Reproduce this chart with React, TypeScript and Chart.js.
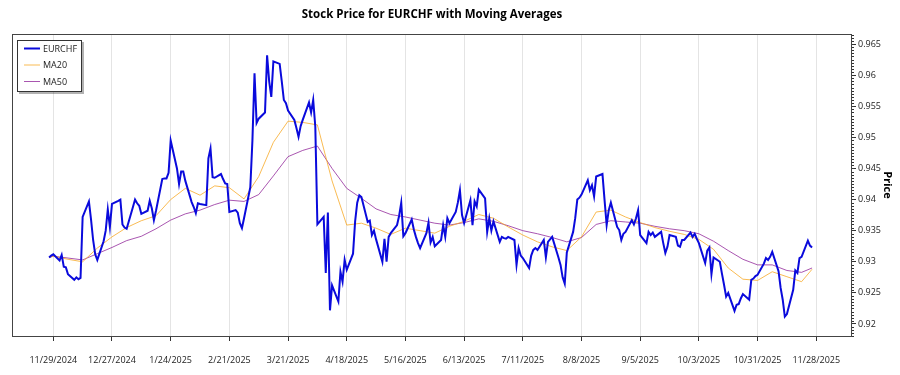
import React, { useEffect, useRef } from 'react';
import { Chart, registerables } from 'chart.js';

Chart.register(...registerables);

// ---- data -------------------------------------------------------------
const TITLE = 'Stock Price for EURCHF with Moving Averages';
const Y_TITLE = 'Price';
const SERIES_NAMES = ['EURCHF', 'MA20', 'MA50'];

// trading days (Mon–Fri) from START to END
const START = '2024-11-27';
const END = '2025-11-26';

// x tick labels
const X_TICK_LABELS = [
  '11/29/2024', '12/27/2024', '1/24/2025', '2/21/2025', '3/21/2025', '4/18/2025', '5/16/2025',
  '6/13/2025', '7/11/2025', '8/8/2025', '9/5/2025', '10/3/2025', '10/31/2025', '11/28/2025',
];
const Y_TICKS = [0.92, 0.925, 0.93, 0.935, 0.94, 0.945, 0.95, 0.955, 0.96, 0.965];

// daily closes, one row per week (first row starts Wed 11/27/2024)
const EURCHF = [
  0.9307, 0.9310, 0.9312,
  0.9302, 0.9311, 0.9292, 0.9291, 0.9280,
  0.9271, 0.9275, 0.9272, 0.9274, 0.9372,
  0.9397, 0.9368, 0.9335, 0.9312, 0.9303,
  0.9333, 0.9350, 0.9384, 0.9356, 0.9393,
  0.9398, 0.9400, 0.9360, 0.9355, 0.9353,
  0.9388, 0.9400, 0.9394, 0.9390, 0.9377,
  0.9382, 0.9398, 0.9386, 0.9367, 0.9382,
  0.9433, 0.9434, 0.9434, 0.9443, 0.9495,
  0.9450, 0.9425, 0.9445, 0.9445, 0.9430,
  0.9396, 0.9388, 0.9378, 0.9394, 0.9393,
  0.9391, 0.9466, 0.9482, 0.9436, 0.9435,
  0.9441, 0.9433, 0.9426, 0.9425, 0.9380,
  0.9383, 0.9379, 0.9362, 0.9354, 0.9370,
  0.9420, 0.9495, 0.9603, 0.9523, 0.9530,
  0.9540, 0.9632, 0.9590, 0.9565, 0.9622,
  0.9618, 0.9590, 0.9560, 0.9555, 0.9543,
  0.9528, 0.9515, 0.9501, 0.9518, 0.9528,
  0.9556, 0.9540, 0.9560, 0.9517, 0.9360,
  0.9372, 0.9282, 0.9379, 0.9222, 0.9262,
  0.9236, 0.9284, 0.9268, 0.9303, 0.9287,
  0.9313, 0.9365, 0.9395, 0.9407, 0.9404,
  0.9364, 0.9366, 0.9343, 0.9350, 0.9336,
  0.9300, 0.9337, 0.9300, 0.9340, 0.9346,
  0.9359, 0.9374, 0.9395, 0.9341, 0.9346,
  0.9368, 0.9352, 0.9340, 0.9330, 0.9322,
  0.9346, 0.9363, 0.9331, 0.9340, 0.9325,
  0.9335, 0.9359, 0.9340, 0.9370, 0.9362,
  0.9380, 0.9395, 0.9415, 0.9375, 0.9362,
  0.9399, 0.9359, 0.9397, 0.9389, 0.9416,
  0.9402, 0.9348, 0.9370, 0.9350, 0.9365,
  0.9332, 0.9340, 0.9338, 0.9337, 0.9340,
  0.9335, 0.9295, 0.9322, 0.9310, 0.9306,
  0.9290, 0.9310, 0.9319, 0.9322, 0.9319,
  0.9335, 0.9307, 0.9332, 0.9336, 0.9340,
  0.9307, 0.9295, 0.9275, 0.9265, 0.9315,
  0.9348, 0.9370, 0.9400, 0.9403, 0.9408,
  0.9431, 0.9415, 0.9423, 0.9405, 0.9437,
  0.9441, 0.9399, 0.9359, 0.9383, 0.9395,
  0.9356, 0.9351, 0.9335, 0.9345, 0.9348,
  0.9367, 0.9360, 0.9370, 0.9383, 0.9343,
  0.9330, 0.9348, 0.9343, 0.9347, 0.9340,
  0.9348, 0.9330, 0.9314, 0.9324, 0.9343,
  0.9340, 0.9326, 0.9324, 0.9335, 0.9335,
  0.9347, 0.9340, 0.9345, 0.9337, 0.9330,
  0.9298, 0.9318, 0.9323, 0.9280, 0.9307,
  0.9300, 0.9281, 0.9263, 0.9244, 0.9250,
  0.9221, 0.9231, 0.9232, 0.9241, 0.9248,
  0.9239, 0.9271, 0.9273, 0.9277, 0.9279,
  0.9297, 0.9306, 0.9303, 0.9308, 0.9316,
  0.9285, 0.9258, 0.9239, 0.9212, 0.9216,
  0.9255, 0.9286, 0.9282, 0.9306, 0.9308,
  0.9334, 0.9326, 0.9323,
];

// moving averages read at START, every Friday, and END
const MA20 = [
  0.9307,
  0.9309, 0.9304, 0.9300, 0.9322, 0.9340, 0.9355, 0.9366, 0.9374, 0.9400, 0.9418,
  0.9407, 0.9422, 0.9419, 0.9401, 0.9437, 0.9492, 0.9526, 0.9524, 0.9520, 0.9430,
  0.9359, 0.9362, 0.9354, 0.9344, 0.9354, 0.9350, 0.9346, 0.9357, 0.9365, 0.9376,
  0.9370, 0.9356, 0.9343, 0.9332, 0.9324, 0.9318, 0.9340, 0.9380, 0.9383, 0.9372,
  0.9363, 0.9355, 0.9349, 0.9344, 0.9336, 0.9320, 0.9290, 0.9272, 0.9270, 0.9284,
  0.9276, 0.9268,
  0.9288,
];
const MA50 = [
  0.9307,
  0.9309, 0.9306, 0.9303, 0.9313, 0.9323, 0.9334, 0.9341, 0.9353, 0.9367, 0.9377,
  0.9383, 0.9392, 0.9399, 0.9397, 0.9408, 0.9438, 0.9469, 0.9479, 0.9486, 0.9450,
  0.9418, 0.9402, 0.9385, 0.9376, 0.9372, 0.9367, 0.9362, 0.9359, 0.9363, 0.9369,
  0.9365, 0.9358, 0.9350, 0.9345, 0.9339, 0.9332, 0.9339, 0.9360, 0.9366, 0.9364,
  0.9362, 0.9357, 0.9353, 0.9350, 0.9345, 0.9333, 0.9318, 0.9304, 0.9295, 0.9295,
  0.9286, 0.9283,
  0.9290,
];

const COLORS = ['#0a0adc', 'rgba(248,170,40,0.8)', 'rgba(140,30,150,0.75)'];
const WIDTHS = [2, 1, 1];

// ---- helpers -----------------------------------------------------------
const DAY = 86400000;
const parseDay = (s: string) => {
  const [y, m, d] = s.split('-').map(Number);
  return Date.UTC(y, m - 1, d);
};
const ORIGIN = parseDay('2024-11-29');
const dayIndex = (t: number) => Math.round((t - ORIGIN) / DAY);
const labelDay = (s: string) => {
  const [m, d, y] = s.split('/').map(Number);
  return dayIndex(Date.UTC(y, m - 1, d));
};

function tradingDays(): number[] {
  const out: number[] = [];
  for (let t = parseDay(START); t <= parseDay(END); t += DAY) {
    const wd = new Date(t).getUTCDay();
    if (wd !== 0 && wd !== 6) out.push(t);
  }
  return out;
}
function maSampleDays(): number[] {
  const out: number[] = [parseDay(START)];
  for (let t = parseDay(START) + DAY; t < parseDay(END); t += DAY) {
    if (new Date(t).getUTCDay() === 5) out.push(t);
  }
  out.push(parseDay(END));
  return out;
}

const FONT = "'Open Sans', 'Noto Sans', sans-serif";

const framePlugin = {
  id: 'frame',
  afterDraw(chart: any) {
    const { ctx, chartArea: a, scales } = chart;
    ctx.save();
    // plot border
    ctx.strokeStyle = '#444';
    ctx.lineWidth = 1;
    ctx.strokeRect(Math.round(a.left) + 0.5, Math.round(a.top) + 0.5, Math.round(a.right - a.left) - 1, Math.round(a.bottom - a.top));
    // minor y ticks
    const y = scales.y;
    ctx.strokeStyle = '#333';
    ctx.beginPath();
    for (let i = 0; i <= 100; i++) {
      const v = 0.918 + i * 0.0005;
      if (v > y.max) break;
      const py = Math.round(y.getPixelForValue(v)) + 0.5;
      const major = Math.abs(v * 200 - Math.round(v * 200)) < 1e-6;
      if (major) continue;
      ctx.moveTo(a.right, py);
      ctx.lineTo(a.right + 2, py);
    }
    ctx.stroke();
    // legend
    const lx = 17, ly = 40, lw = 65, lh = 52;
    ctx.fillStyle = 'rgba(0,0,0,0.3)';
    ctx.fillRect(lx + 2, ly + 2, lw, lh);
    ctx.fillStyle = '#fff';
    ctx.fillRect(lx, ly, lw, lh);
    ctx.strokeStyle = '#333';
    ctx.strokeRect(lx + 0.5, ly + 0.5, lw - 1, lh - 1);
    ctx.font = `9px ${FONT}`;
    ctx.textBaseline = 'middle';
    ctx.textAlign = 'left';
    chart.data.datasets.forEach((ds: any, i: number) => {
      const ry = ly + 8.5 + i * 16.5;
      ctx.strokeStyle = ds.borderColor;
      ctx.lineWidth = ds.borderWidth;
      ctx.beginPath();
      ctx.moveTo(lx + 7, ry);
      ctx.lineTo(lx + 23, ry);
      ctx.stroke();
      ctx.fillStyle = '#222';
      ctx.fillText(ds.label, lx + 26, ry + 0.5);
    });
    ctx.restore();
  },
};

export default function App() {
  const ref = useRef<HTMLCanvasElement | null>(null);
  useEffect(() => {
    if (!ref.current) return;
    const days = tradingDays();
    const priceData = EURCHF.slice(0, days.length).map((v, i) => ({ x: dayIndex(days[i]), y: v }));
    const maDays = maSampleDays();
    const ma20Data = MA20.slice(0, maDays.length).map((v, i) => ({ x: dayIndex(maDays[i]), y: v }));
    const ma50Data = MA50.slice(0, maDays.length).map((v, i) => ({ x: dayIndex(maDays[i]), y: v }));
    const xTickValues = X_TICK_LABELS.map(labelDay);
    const labelFor: Record<number, string> = {};
    X_TICK_LABELS.forEach((s, i) => (labelFor[xTickValues[i]] = s));

    const series = [priceData, ma20Data, ma50Data];
    const chart = new Chart(ref.current, {
      type: 'line',
      data: {
        datasets: series.map((d, i) => ({
          label: SERIES_NAMES[i],
          data: d,
          borderColor: COLORS[i],
          backgroundColor: COLORS[i],
          borderWidth: WIDTHS[i],
          pointRadius: 0,
          tension: 0,
          fill: false,
        })),
      },
      options: {
        animation: false,
        responsive: false,
        devicePixelRatio: 1,
        layout: { padding: { left: 12, right: 0, top: 0, bottom: 0 } },
        plugins: {
          legend: { display: false },
          tooltip: { enabled: false },
          title: {
            display: true,
            text: TITLE,
            fullSize: false,
            color: '#000',
            font: { family: FONT, size: 11.5, weight: 'bold' },
            padding: { top: 8, bottom: 12.2 },
          },
        },
        scales: {
          x: {
            type: 'linear',
            min: -19.7,
            max: 381.05,
            afterBuildTicks: (s: any) => {
              s.ticks = xTickValues.map((v) => ({ value: v }));
            },
            afterFit: (s: any) => {
              s.height = 39;
            },
            ticks: {
              autoSkip: false,
              maxRotation: 0,
              minRotation: 0,
              padding: 14,
              color: '#222',
              font: { family: FONT, size: 9 },
              callback: (v: any) => labelFor[v] ?? '',
            },
            grid: {
              color: '#e4e4e4',
              tickColor: '#333',
              tickLength: 5,
              drawOnChartArea: true,
            },
            border: { display: false },
          },
          y: {
            type: 'linear',
            position: 'right',
            min: 0.91807,
            max: 0.96661,
            afterBuildTicks: (s: any) => {
              s.ticks = Y_TICKS.map((v) => ({ value: v }));
            },
            afterFit: (s: any) => {
              s.width = 48;
            },
            ticks: {
              padding: 2,
              color: '#222',
              font: { family: FONT, size: 9 },
              callback: (v: any) => String(+Number(v).toFixed(3)),
            },
            grid: {
              drawOnChartArea: false,
              tickColor: '#333',
              tickLength: 4,
            },
            border: { display: false },
            title: {
              display: true,
              text: Y_TITLE,
              color: '#000',
              font: { family: FONT, size: 11, weight: 'bold' },
              padding: { top: 6, bottom: 0 },
            },
          },
        },
      },
      plugins: [framePlugin],
    } as any);
    return () => chart.destroy();
  }, []);

  return (
    <div style={{ position: 'fixed', left: 0, top: 0, width: 900, height: 375, background: '#fff' }}>
      <canvas ref={ref} width={900} height={375} />
    </div>
  );
}
